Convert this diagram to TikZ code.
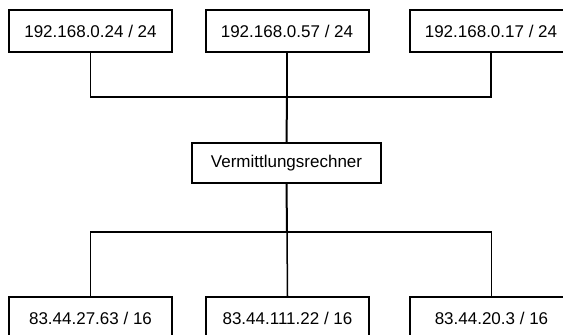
\documentclass[tikz,border=0pt]{standalone}
\usepackage{fontspec}
\setmainfont{Liberation Sans}
\begin{document}
\begin{tikzpicture}[x=1pt,y=-1pt,
  hostbox/.style={draw=black, line width=2pt, fill=white, minimum width=163pt,
    minimum height=42pt, inner sep=0pt, font=\fontsize{17}{20}\selectfont},
  routerbox/.style={hostbox, minimum width=189pt, minimum height=40pt},
  link/.style={draw=black, line width=1.5pt}]
\clip (0,0) rectangle (563,335);
\fill[white] (0,0) rectangle (563,335);

% upper network 192.168.0.0/24
\node[hostbox] (h1) at (90.5,31) {192.168.0.24 / 24};
\node[hostbox] (h2) at (287,31) {192.168.0.57 / 24};
\node[hostbox] (h3) at (491,31) {192.168.0.17 / 24};

% router
\node[routerbox] (r) at (286.5,163) {Vermittlungsrechner};

% lower network 83.44.0.0/16
\node[hostbox] (l1) at (90.5,318) {83.44.27.63 / 16};
\node[hostbox] (l2) at (287.5,318) {83.44.111.22 / 16};
\node[hostbox] (l3) at (491.5,318) {83.44.20.3 / 16};

% bus junctions
\coordinate (top) at (287,97);
\coordinate (bot) at (287,232);

\draw[link] (h1.south) |- (top);
\draw[link] (h3.south) |- (top);
\draw[link] (h2.south) -- (top);
\draw[link, line width=2pt] (top) -- (r.north);
\draw[link, line width=2pt] (r.south) -- (bot);
\draw[link] (l1.north) |- (bot);
\draw[link] (l3.north) |- (bot);
\draw[link] (l2.north) -- (bot);
\end{tikzpicture}
\end{document}
